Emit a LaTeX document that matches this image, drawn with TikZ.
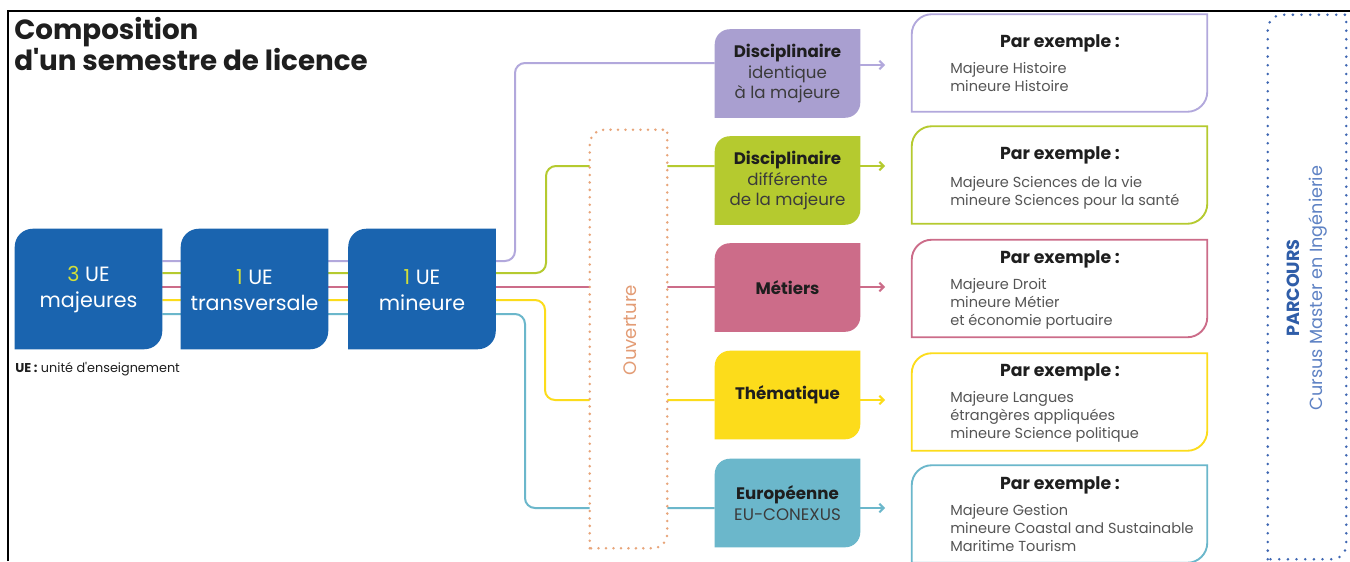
\documentclass[tikz,border=0pt]{standalone}
\usepackage{fontspec}
\setmainfont{Poppins}[Ligatures=TeXOff]
\usetikzlibrary{arrows.meta,calc}
\definecolor{ublue}{HTML}{1A64AF}
\definecolor{uylw}{HTML}{D2DE3A}
\definecolor{cpurple}{HTML}{A99FD0}
\definecolor{lpurple}{HTML}{B2A8DC}
\definecolor{cgreen}{HTML}{B5CA2F}
\definecolor{cpink}{HTML}{CC6C89}
\definecolor{cyellow}{HTML}{FCDC1B}
\definecolor{ccyan}{HTML}{6BB7CB}
\definecolor{corange}{HTML}{E8A57A}
\definecolor{torange}{HTML}{E39C75}
\definecolor{pblue}{HTML}{3E66B2}
\definecolor{ptext}{HTML}{2F5DA8}
\definecolor{ctext}{HTML}{5E82C4}
\definecolor{txtdark}{HTML}{1E1E1E}
\definecolor{txtgrey}{HTML}{555555}
\pgfdeclarelayer{lines}
\pgfdeclarelayer{boxes}
\pgfsetlayers{lines,boxes,main}
\newcommand\ccbox[3]{\path[#3] (#1.south west) -- ([yshift=-#2]#1.north west) arc[start angle=180,end angle=90,radius=#2] -- (#1.north east) -- ([yshift=#2]#1.south east) arc[start angle=0,end angle=-90,radius=#2] -- cycle;}
\begin{document}
\begin{tikzpicture}[x=0.75pt,y=-0.75pt,
  bluebox/.style={minimum width=110.25pt,minimum height=90pt,inner sep=0pt,align=center,text=white,font=\fontsize{15.5}{19.5}\selectfont},
  catbox/.style={minimum width=108.75pt,minimum height=66pt,inner sep=0pt,align=center,text=txtdark,font=\fontsize{12.5}{15.4}\selectfont},
  exbox/.style={minimum width=221.25pt,minimum height=72.75pt,inner sep=0pt},
  exhead/.style={font=\bfseries\fontsize{13}{15}\selectfont,text=txtdark,inner sep=0pt},
  exbody/.style={anchor=north west,align=left,inner sep=0pt,text=txtgrey,font=\fontsize{10.9}{13.5}\selectfont},
  conn/.style={line width=1.5pt,rounded corners=7.5pt},
  arr/.style={line width=1.5pt,-{Straight Barb[length=3.2pt,width=6.5pt]}},
  dots/.style={line width=2.1pt,dash pattern=on 0pt off 5.6pt,line cap=round},
  pdots/.style={line width=2.1pt,dash pattern=on 0pt off 6.5pt,line cap=round}
]
\useasboundingbox (0,0) rectangle (1350,561);
\begin{pgfonlayer}{lines}
\fill[white] (0,0) rectangle (1350,561);
\end{pgfonlayer}
% frame
\draw[line width=1.5pt] (8,561) -- (8,11) -- (1350,11);
% title
\node[anchor=north west,inner sep=0pt,align=left,text=txtdark,font=\bfseries\fontsize{20.8}{21.5}\selectfont] (title) at (14,17) {Composition\\d'un semestre de licence};
% blue boxes
\node[bluebox] (b1) at (88.5,289) {\rule{0pt}{13pt}\textcolor{uylw}{3} UE\\majeures};
\node[bluebox] (b2) at (254.5,289) {\rule{0pt}{13pt}\textcolor{uylw}{1} UE\\transversale};
\node[bluebox] (b3) at (422,289) {\rule{0pt}{13pt}\textcolor{uylw}{1} UE\\mineure};
\node[anchor=west,inner sep=0pt,text=txtdark,font=\fontsize{9.6}{11}\selectfont] (leg) at (15,369) {\textbf{UE :} unité d'enseignement};
% category boxes
\node[catbox] (c1) at (787.5,73.5) {\textbf{Disciplinaire}\\\color{txtgrey!70!black}identique\\\color{txtgrey!70!black}à la majeure};
\node[catbox] (c2) at (787.5,180.5) {\textbf{Disciplinaire}\\\color{txtgrey!70!black}différente\\\color{txtgrey!70!black}de la majeure};
\node[catbox] (c3) at (787.5,287.5) {\textbf{Métiers}};
\node[catbox] (c4) at (787.5,395) {\textbf{Thématique}};
\node[catbox] (c5) at (787.5,503) {\textbf{Européenne}\\\color{txtgrey!70!black}EU-CONEXUS};
% ouverture
\node[minimum width=57.75pt,minimum height=313.5pt,inner sep=0pt] (ouv) at (628.5,339) {};
\node[rotate=90,inner sep=0pt,text=torange,font=\fontsize{13.6}{15}\selectfont] (ouvt) at (630,330) {Ouverture};
% example boxes
\node[exbox] (e1) at (1059.5,63) {};
\node[exbox] (e2) at (1059.5,175) {};
\node[exbox] (e3) at (1059.5,288.5) {};
\node[exbox] (e4) at (1059.5,402) {};
\node[exbox] (e5) at (1059.5,514) {};
\node[exhead] (h1) at (1060,43) {Par exemple :};
\node[exhead] (h2) at (1060,155) {Par exemple :};
\node[exhead] (h3) at (1060,259) {Par exemple :};
\node[exhead] (h4) at (1060,372) {Par exemple :};
\node[exhead] (h5) at (1060,485) {Par exemple :};
\node[exbody] (t1) at (950,62) {Majeure Histoire\\mineure Histoire};
\node[exbody] (t2) at (950,176) {Majeure Sciences de la vie\\mineure Sciences pour la santé};
\node[exbody] (t3) at (950,278) {Majeure Droit\\mineure Métier\\et économie portuaire};
\node[exbody] (t4) at (950,391) {Majeure Langues\\étrangères appliquées\\mineure Science politique};
\node[exbody] (t5) at (950,504) {Majeure Gestion\\mineure Coastal and Sustainable\\Maritime Tourism};
% parcours
\node[minimum width=58.5pt,minimum height=408pt,inner sep=0pt] (par) at (1307,287) {};
\node[rotate=90,inner sep=0pt,align=center,font=\fontsize{13.2}{17.25}\selectfont] (part) at (1307,288) {\textcolor{ptext}{\bfseries PARCOURS}\\\textcolor{ctext}{Cursus Master en Ingénierie}};
% box shapes
\begin{pgfonlayer}{boxes}
\ccbox{b1}{13.5pt}{fill=ublue}
\ccbox{b2}{13.5pt}{fill=ublue}
\ccbox{b3}{13.5pt}{fill=ublue}
\ccbox{c1}{11.25pt}{fill=cpurple}
\ccbox{c2}{11.25pt}{fill=cgreen}
\ccbox{c3}{11.25pt}{fill=cpink}
\ccbox{c4}{11.25pt}{fill=cyellow}
\ccbox{c5}{11.25pt}{fill=ccyan}
\ccbox{e1}{15pt}{draw=lpurple,line width=1.4pt,fill=white}
\ccbox{e2}{15pt}{draw=cgreen,line width=1.4pt,fill=white}
\ccbox{e3}{15pt}{draw=cpink,line width=1.4pt,fill=white}
\ccbox{e4}{15pt}{draw=cyellow,line width=1.4pt,fill=white}
\ccbox{e5}{15pt}{draw=ccyan,line width=1.4pt,fill=white}
\ccbox{ouv}{11pt}{fill=white}
\ccbox{ouv}{11pt}{draw=corange,dots}
\ccbox{par}{11pt}{draw=pblue,pdots}
\end{pgfonlayer}
% connectors
\coordinate (lvP) at (0,261);
\coordinate (lvG) at (0,273);
\coordinate (lvK) at (0,287);
\coordinate (lvY) at (0,300);
\coordinate (lvC) at (0,314);
\coordinate (kP) at (515,63);
\coordinate (kG) at (546,166);
\coordinate (kY) at (545,400);
\coordinate (kC) at (525,508);
\coordinate (aP) at (885,65);
\coordinate (aG) at (885,166);
\coordinate (aK) at (885,287);
\coordinate (aY) at (885,400);
\coordinate (aC) at (885,508);
\begin{pgfonlayer}{lines}
\draw[conn,lpurple] (b1.east |- lvP) -- (lvP -| kP) -- (kP) -- (kP -| c1.west);
\draw[conn,cgreen] (b1.east |- lvG) -- (lvG -| kG) -- (kG) -- (kG -| c2.west);
\draw[conn,cpink] (b1.east |- lvK) -- (lvK -| c3.west);
\draw[conn,cyellow] (b1.east |- lvY) -- (lvY -| kY) -- (kY) -- (kY -| c4.west);
\draw[conn,ccyan] (b1.east |- lvC) -- (lvC -| kC) -- (kC) -- (kC -| c5.west);
\end{pgfonlayer}
\draw[arr,lpurple] (aP -| c1.east) -- (aP);
\draw[arr,cgreen] (aG -| c2.east) -- (aG);
\draw[arr,cpink] (aK -| c3.east) -- (aK);
\draw[arr,cyellow] (aY -| c4.east) -- (aY);
\draw[arr,ccyan] (aC -| c5.east) -- (aC);
\end{tikzpicture}
\end{document}
